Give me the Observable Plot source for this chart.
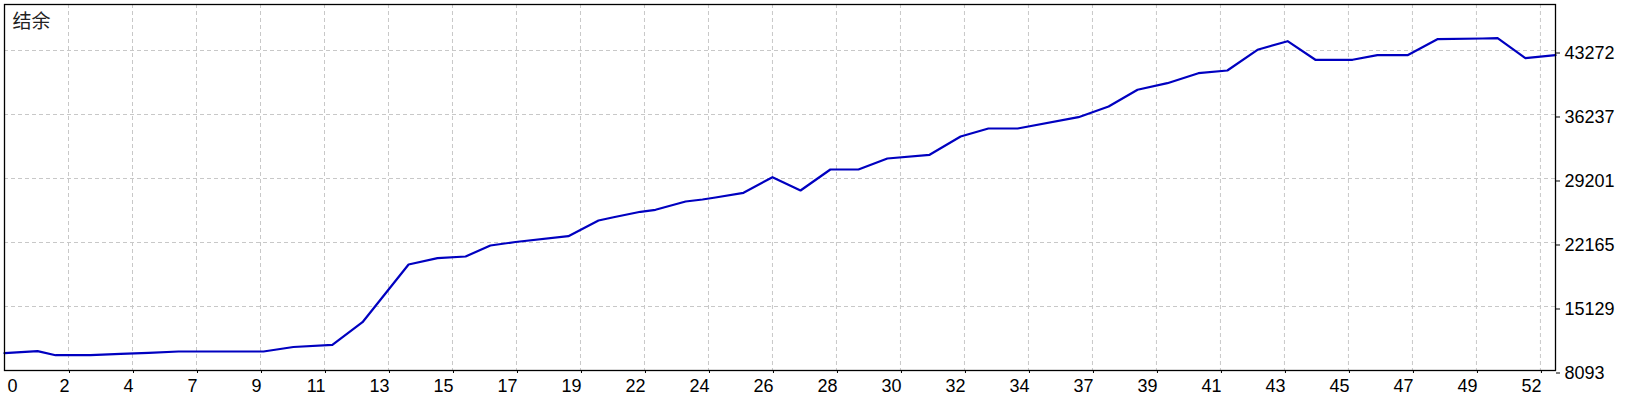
<!DOCTYPE html>
<html>
<head>
<meta charset="utf-8">
<script src="https://cdn.jsdelivr.net/npm/d3@7"></script>
<script src="https://cdn.jsdelivr.net/npm/@observablehq/plot@0.6"></script>
<style>
  html, body { margin: 0; padding: 0; background: #ffffff; }
  #chart svg { display: block; }
</style>
</head>
<body>
<div id="chart"></div>
<script>
// Trade position (x, in trades) and balance (y)
const tradeX = [0, 1.12, 1.73, 2.91, 3.93, 4.88, 5.89, 8.77, 9.78, 11.10, 12.12, 13.68,
  14.66, 15.61, 16.45, 17.30, 19.09, 20.11, 20.62, 21.53, 22.04, 23.06, 23.63, 24.07,
  25.02, 26.00, 26.95, 27.96, 28.91, 29.89, 31.32, 32.37, 33.31, 34.30, 36.36, 37.38,
  38.36, 39.37, 40.42, 41.40, 42.42, 43.44, 44.38, 45.64, 46.48, 47.50, 48.51, 50.04,
  50.55, 51.49, 52.51];
const balance = [9995, 10215, 9775, 9775, 9929, 10039, 10182, 10182, 10677, 10918, 13403, 19746,
  20439, 20626, 21835, 22220, 22858, 24584, 24946, 25540, 25760, 26672, 26892, 27112,
  27629, 29344, 27882, 30190, 30190, 31400, 31807, 33818, 34698, 34698, 35940, 37117,
  38952, 39678, 40778, 41074, 43350, 44296, 42251, 42251, 42756, 42756, 44516, 44592,
  44625, 42427, 42756];

// Axis tick labels
const xTickLabels = ["0","2","4","7","9","11","13","15","17","19","22","24","26","28","30",
  "32","34","37","39","41","43","45","47","49","52"];
const xTickStep = 13 / 6; // trades per grid cell
const yTicks = [8093, 15129, 22165, 29201, 36237, 43272];
const title = "结余";

const data = tradeX.map((x, i) => ({x, y: balance[i]}));
const xTickVals = xTickLabels.map((_, k) => k * xTickStep);
const labelOf = v => xTickLabels[xTickVals.indexOf(v)];

const gridStyle = {stroke: "#c8c8c8", strokeOpacity: 1, strokeDasharray: "4,3", strokeWidth: 1};

const chart = Plot.plot({
  width: 1640,
  height: 400,
  marginLeft: 4,
  marginRight: 85,
  marginTop: 4,
  marginBottom: 30,
  style: {fontFamily: "'Liberation Sans', Arial, sans-serif", fontSize: "18px", background: "#ffffff", color: "#000"},
  x: {domain: [0, 52.51], label: null},
  y: {domain: [8093, 48329], label: null},
  marks: [
    Plot.gridX(xTickVals.slice(1), gridStyle),
    Plot.gridY(yTicks, gridStyle),
    Plot.line(data, {x: "x", y: "y", stroke: "#0000c0", strokeWidth: 2.2}),
    Plot.frame({stroke: "#000", strokeWidth: 1.3}),
    Plot.axisY(yTicks, {anchor: "right", label: null, tickSize: 4, tickPadding: 5, dy: 2.5,
      tickFormat: d => String(d), fill: "#000", stroke: "#000", fontSize: 18}),
    Plot.axisX(xTickVals.slice(1), {anchor: "bottom", label: null, tickSize: 3, tickPadding: 6,
      textAnchor: "end", dx: 1, tickFormat: labelOf, fill: "#000", stroke: "#000", fontSize: 18}),
    Plot.axisX([0], {anchor: "bottom", label: null, tickSize: 0, tickPadding: 9, textAnchor: "start",
      dx: 3, tickFormat: labelOf, fill: "#000", fontSize: 18}),
    Plot.text([title], {frameAnchor: "top-left", dx: 8, dy: 10, textAnchor: "start",
      lineAnchor: "top", fontFamily: "'Noto Sans CJK SC', sans-serif", fontSize: 19, fill: "#222"})
  ]
});
document.getElementById("chart").appendChild(chart);
</script>
</body>
</html>
